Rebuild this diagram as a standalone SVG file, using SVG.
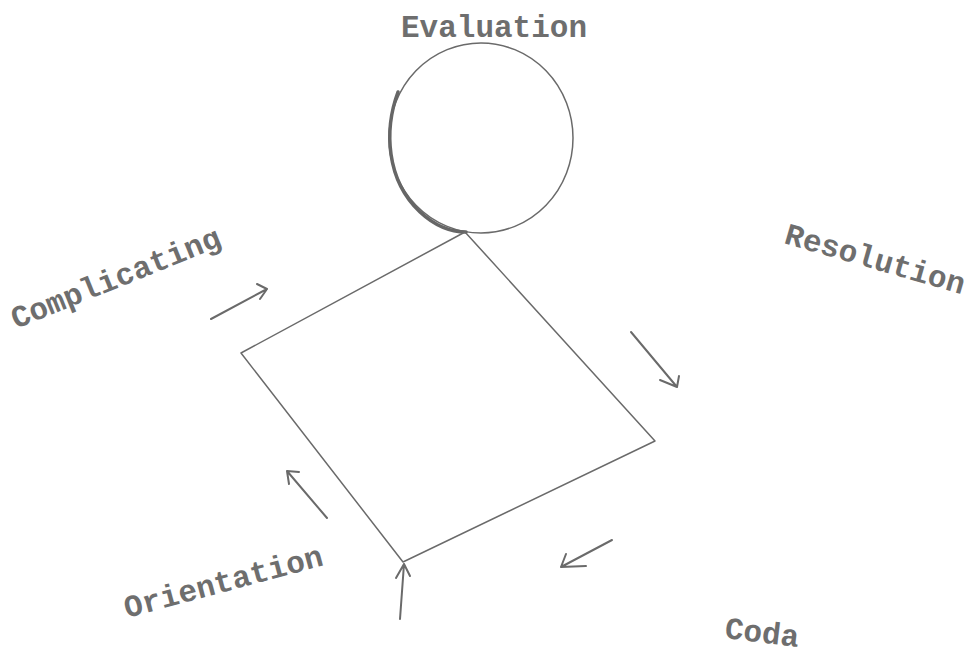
<svg xmlns="http://www.w3.org/2000/svg" width="976" height="657" viewBox="0 0 976 657">
<style>
.lbl{font-family:"Liberation Mono","DejaVu Sans Mono",monospace;font-weight:bold;font-size:31px;fill:#6e6e6e}
.ln{fill:none;stroke:#6a6a6a;stroke-width:1.5;stroke-linecap:round;stroke-linejoin:round}
.ar{fill:none;stroke:#6a6a6a;stroke-width:2;stroke-linecap:round;stroke-linejoin:round}
</style>
<rect width="976" height="657" fill="#ffffff"/>
<g id="evaluation">
  <ellipse cx="481" cy="138" rx="92" ry="95" class="ln"/>
  <path d="M398,92 C384,130 386,180 420,212 C435,226 450,232 466,232" fill="none" stroke="#666" stroke-width="3.5" stroke-linecap="round"/>
  <text class="lbl" x="494" y="37" text-anchor="middle">Evaluation</text>
</g>
<g id="diamond">
  <polygon points="465,232 241,353 403,562 655,441" class="ln"/>
</g>
<g id="complicating">
  <text class="lbl" x="16" y="329" transform="rotate(-22 16 329)">Complicating</text>
</g>
<g id="resolution">
  <text class="lbl" x="783" y="243" transform="rotate(16 783 243)">Resolution</text>
</g>
<g id="orientation">
  <text class="lbl" x="127" y="618" transform="rotate(-15 127 618)">Orientation</text>
</g>
<g id="coda">
  <text class="lbl" x="724" y="638" font-size="29" transform="rotate(7 724 638)">Coda</text>
</g>
<g id="connectors">
  <path class="ar" d="M211,319 L267,289 M257,284 L267,289 L260,299"/>
  <path class="ar" d="M631,332 L677,387 M660,380 L677,387 L679,376"/>
  <path class="ar" d="M612,540 L561,567 M566,554 L561,567 L586,566"/>
  <path class="ar" d="M327,518 L287,471 M299,472 L287,471 L289,484"/>
  <path class="ar" d="M400,619 L404,564 M396,578 L404,564 L410,576"/>
</g>
</svg>
